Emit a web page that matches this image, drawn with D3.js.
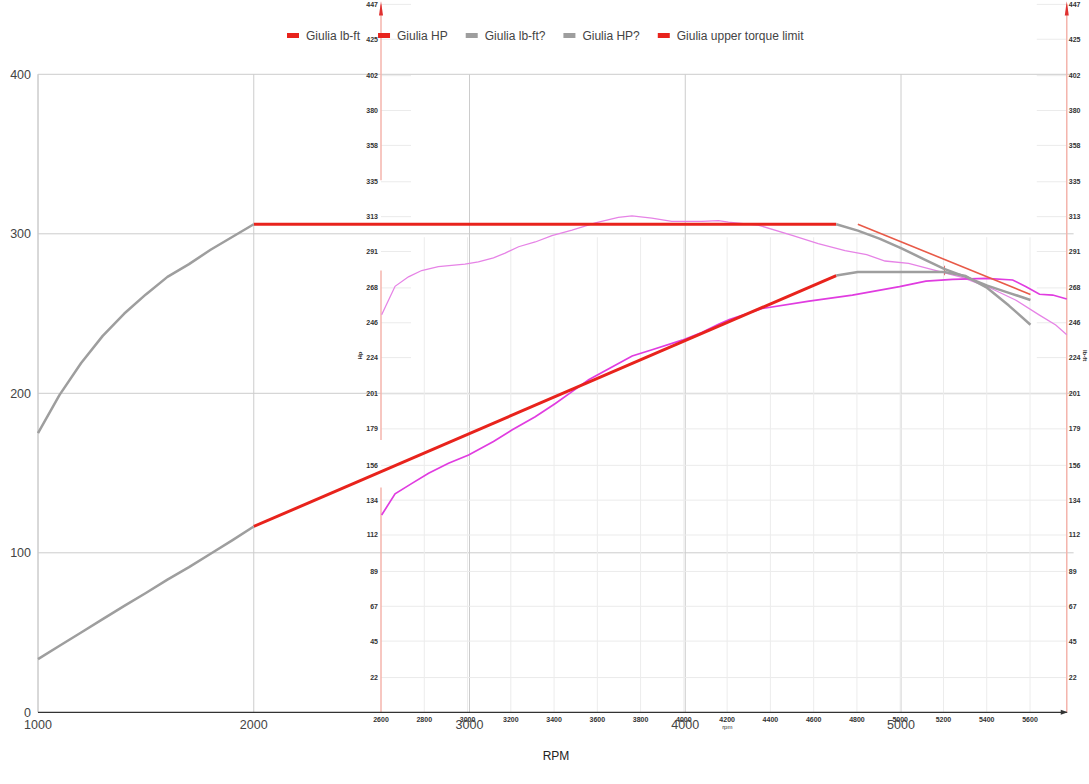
<!DOCTYPE html>
<html>
<head>
<meta charset="utf-8">
<script src="https://cdn.jsdelivr.net/npm/d3@7"></script>
<style>
  body { margin: 0; background: #fff; }
  #chart { width: 1089px; height: 784px; }
  text { font-family: Arial, "Liberation Sans", sans-serif; }
</style>
</head>
<body>
<div id="chart"></div>
<script>
// main chart values
const rpmTicks = [1000, 2000, 3000, 4000, 5000];
const valueTicks = [0, 100, 200, 300, 400];
const seriesNames = ["Giulia lb-ft", "Giulia HP", "Giulia lb-ft?", "Giulia HP?", "Giulia upper torque limit"];

const giuliaTorque = [[2000, 306], [4700, 306]];
const giuliaHp = [[2000, 116.5], [4700, 273.8]];
const guessTorque = [[1000, 175], [1100, 199], [1200, 219], [1300, 236], [1400, 250], [1500, 262],
  [1600, 273], [1700, 281], [1800, 290], [1900, 298], [2000, 306], [3000, null],
  [4700, 306], [4800, 302], [4900, 297], [5000, 291], [5100, 284.5], [5200, 278],
  [5300, 273], [5400, 267.5], [5500, 263], [5600, 258.5]];
const guessHp = [[1000, 33.3], [1100, 41.7], [1200, 50], [1300, 58.4], [1400, 66.7], [1500, 74.8],
  [1600, 83.2], [1700, 91], [1800, 99.4], [1900, 107.8], [2000, 116.5], [3000, null],
  [4700, 273.8], [4800, 276], [4900, 276], [5000, 276], [5100, 276], [5200, 276],
  [5300, 273.5], [5400, 266], [5500, 255], [5600, 243]];
const upperLimit = [[4800, 306], [5600, 262]];

// dyno sheet pasted over the chart
const dynoRpmTicks = [2600, 2800, 3000, 3200, 3400, 3600, 3800, 4000, 4200, 4400, 4600, 4800, 5000, 5200, 5400, 5600];
const dynoValueTicks = [22, 45, 67, 89, 112, 134, 156, 179, 201, 224, 246, 268, 291, 313, 335, 358, 380, 402, 425, 447];
const dynoTorque = [[2603, 251], [2665, 269], [2727, 275], [2788, 279], [2865, 281.5], [2988, 283],
  [3050, 284.5], [3120, 287], [3174, 290], [3236, 294], [3313, 297], [3390, 301], [3483, 304.5],
  [3591, 309], [3697, 312.5], [3760, 313.5], [3852, 312], [3944, 310], [4083, 310], [4160, 310.5],
  [4206, 309.5], [4343, 307.7], [4497, 301.4], [4621, 296], [4745, 291.5], [4845, 289], [4930, 285],
  [5039, 283.5], [5162, 279], [5286, 274.7], [5409, 268.4], [5533, 260.4], [5642, 251], [5719, 244.6],
  [5770, 238.5]];
const dynoHp = [[2603, 124.6], [2665, 138], [2743, 144.6], [2820, 151], [2912, 157.3], [3005, 162.5],
  [3120, 171], [3205, 178.3], [3313, 186.7], [3406, 195], [3483, 202.5], [3560, 210], [3653, 217],
  [3761, 225], [3853, 229], [3992, 235], [4085, 240], [4160, 245], [4210, 248], [4363, 255],
  [4579, 259.7], [4779, 263.5], [4997, 268.8], [5119, 272.3], [5242, 273.4], [5397, 274], [5520, 273],
  [5582, 268.8], [5644, 264], [5705, 263.5], [5770, 261]];
const dynoLeftAxisParts = [[0, 142], [172, 279], [336, 447]];
const dynoMarker = [[5205, 276], [5205, 282]];

const width = 1089;
const height = 784;

const svg = d3.select("#chart")
  .append("svg")
  .attr("width", width)
  .attr("height", height);

const xScale = d3.scaleLinear().domain([1000, 5800]).range([38, 1073.6]);
const yScale = d3.scaleLinear().domain([0, 400]).range([712.3, 74.3]);

const dx = d3.scaleLinear().domain([2600, 5600]).range([381, 1030]);
const dy = d3.scaleLinear().domain([0, 447]).range([712.4, 4.4]);
const dynoEnd = 5770;

/* main grid */
const grid = svg.append("g");
grid.selectAll(".hgrid")
  .data(valueTicks.filter(d => d > 0))
  .enter().append("line")
    .attr("x1", xScale(1000)).attr("x2", xScale(5800))
    .attr("y1", d => yScale(d)).attr("y2", d => yScale(d))
    .attr("stroke", "#cccccc");
grid.selectAll(".vgrid")
  .data(rpmTicks)
  .enter().append("line")
    .attr("x1", d => xScale(d)).attr("x2", d => xScale(d))
    .attr("y1", yScale(0)).attr("y2", yScale(400))
    .attr("stroke", "#cccccc");

/* dyno sheet grid + axes */
const dyno = svg.append("g");
dyno.selectAll(".dh")
  .data(dynoValueTicks)
  .enter().append("line")
    .attr("x1", dx(2600))
    .attr("x2", d => d <= 201 ? dx(dynoEnd) : dx(2600) + 30)
    .attr("y1", d => dy(d)).attr("y2", d => dy(d))
    .attr("stroke", "#ebebeb");
dyno.selectAll(".dh2")
  .data(dynoValueTicks.filter(d => d > 201))
  .enter().append("line")
    .attr("x1", dx(dynoEnd) - 30).attr("x2", dx(dynoEnd))
    .attr("y1", d => dy(d)).attr("y2", d => dy(d))
    .attr("stroke", "#ebebeb");
dyno.selectAll(".dv")
  .data(dynoRpmTicks.slice(1))
  .enter().append("line")
    .attr("x1", d => dx(d)).attr("x2", d => dx(d))
    .attr("y1", dy(0)).attr("y2", dy(300))
    .attr("stroke", "#ececec");

dyno.selectAll(".laxis")
  .data(dynoLeftAxisParts)
  .enter().append("line")
    .attr("x1", dx(2600)).attr("x2", dx(2600))
    .attr("y1", d => dy(d[0])).attr("y2", d => dy(d[1]))
    .attr("stroke", "#f4b4ac").attr("stroke-width", 1.5);
dyno.append("line")
  .attr("x1", dx(dynoEnd)).attr("x2", dx(dynoEnd))
  .attr("y1", dy(0)).attr("y2", dy(447))
  .attr("stroke", "#f4b4ac").attr("stroke-width", 1.5);

// small arrow heads of the dyno axes
[dx(2600), dx(dynoEnd)].forEach(function(ax) {
  dyno.append("path")
    .attr("d", `M${ax - 2},${dy(440)} L${ax},${dy(449)} L${ax + 2},${dy(440)} Z`)
    .attr("fill", "#e03030");
});

const dynoFont = "bold 7px Arial, 'Liberation Sans', sans-serif";

dyno.selectAll(".lt")
  .data(dynoValueTicks)
  .enter().append("text")
    .attr("x", dx(2600) - 3)
    .attr("y", d => dy(d))
    .attr("dy", "0.35em")
    .attr("text-anchor", "end")
    .style("font", dynoFont)
    .attr("fill", "#333")
    .text(d => d);
dyno.selectAll(".rt")
  .data(dynoValueTicks)
  .enter().append("text")
    .attr("x", dx(dynoEnd) + 2)
    .attr("y", d => dy(d))
    .attr("dy", "0.35em")
    .style("font", dynoFont)
    .attr("fill", "#333")
    .text(d => d);
dyno.selectAll(".bt")
  .data(dynoRpmTicks)
  .enter().append("text")
    .attr("x", d => dx(d))
    .attr("y", 722)
    .attr("text-anchor", "middle")
    .style("font", dynoFont)
    .attr("fill", "#333")
    .text(d => d);

dyno.append("text")
  .attr("x", dx(4200) - 5).attr("y", 729)
  .style("font", "6px Arial, 'Liberation Sans', sans-serif")
  .attr("fill", "#333")
  .text("rpm");
dyno.append("text")
  .attr("transform", `translate(${dx(2600) - 19},${dy(224) - 2}) rotate(-90)`)
  .attr("text-anchor", "middle")
  .style("font", "bold 6px Arial, 'Liberation Sans', sans-serif")
  .attr("fill", "#333")
  .text("Hp");
dyno.append("text")
  .attr("transform", `translate(${dx(dynoEnd) + 16},${dy(224) - 2}) rotate(90)`)
  .attr("text-anchor", "middle")
  .style("font", "bold 6px Arial, 'Liberation Sans', sans-serif")
  .attr("fill", "#333")
  .text("lb-ft");

const dynoLine = d3.line()
  .x(d => dx(d[0]))
  .y(d => dy(d[1]));

dyno.append("path")
  .datum(dynoTorque)
  .attr("d", dynoLine)
  .attr("fill", "none")
  .attr("stroke", "#e683e6")
  .attr("stroke-width", 1.3);
dyno.append("path")
  .datum(dynoHp)
  .attr("d", dynoLine)
  .attr("fill", "none")
  .attr("stroke", "#e03ce0")
  .attr("stroke-width", 1.7);
dyno.append("path")
  .datum(dynoMarker)
  .attr("d", dynoLine)
  .attr("fill", "none")
  .attr("stroke", "#e06a6a")
  .attr("stroke-width", 1);

/* baselines */
svg.append("line")
  .attr("x1", xScale(1000)).attr("x2", xScale(1000))
  .attr("y1", yScale(0)).attr("y2", yScale(400))
  .attr("stroke", "#cccccc");
svg.append("line")
  .attr("x1", xScale(1000)).attr("x2", dx(dynoEnd))
  .attr("y1", yScale(0)).attr("y2", yScale(0))
  .attr("stroke", "#333").attr("stroke-width", 1.3);
svg.append("path")
  .attr("d", `M${dx(dynoEnd) - 6},${yScale(0) - 2.5} L${dx(dynoEnd) + 1},${yScale(0)} L${dx(dynoEnd) - 6},${yScale(0) + 2.5} Z`)
  .attr("fill", "#333");

/* series */
const line = d3.line()
  .defined(d => d[1] != null)
  .x(d => xScale(d[0]))
  .y(d => yScale(d[1]));

const series = [
  {data: giuliaTorque, color: "#e8231c", w: 3},
  {data: giuliaHp, color: "#e8231c", w: 3},
  {data: guessTorque, color: "#9e9e9e", w: 2.5},
  {data: guessHp, color: "#9e9e9e", w: 2.5},
  {data: upperLimit, color: "#e85a48", w: 1.6}
];

series.forEach(function(s) {
  svg.append("path")
    .datum(s.data)
    .attr("d", line)
    .attr("fill", "none")
    .attr("stroke", s.color)
    .attr("stroke-width", s.w)
    .attr("stroke-linejoin", "round");
});

/* axis labels */
svg.selectAll(".ylab")
  .data(valueTicks)
  .enter().append("text")
    .attr("x", 31)
    .attr("y", d => yScale(d))
    .attr("dy", "0.35em")
    .attr("text-anchor", "end")
    .attr("font-size", 12.5)
    .attr("fill", "#444")
    .text(d => d);

svg.selectAll(".xlab")
  .data(rpmTicks)
  .enter().append("text")
    .attr("x", d => xScale(d))
    .attr("y", 729)
    .attr("text-anchor", "middle")
    .attr("font-size", 12.5)
    .attr("fill", "#444")
    .text(d => d);

svg.append("text")
  .attr("x", 556)
  .attr("y", 760)
  .attr("text-anchor", "middle")
  .attr("font-size", 12)
  .attr("fill", "#222")
  .text("RPM");

/* legend */
const legend = svg.append("g");
let lx = 287;
seriesNames.forEach(function(name, i) {
  legend.append("rect")
    .attr("x", lx).attr("y", 33)
    .attr("width", 12).attr("height", 5)
    .attr("fill", i === 4 ? "#e8231c" : series[i].color);
  const t = legend.append("text")
    .attr("x", lx + 19).attr("y", 39.5)
    .attr("font-size", 12)
    .attr("fill", "#444")
    .text(name);
  lx += 19 + t.node().getComputedTextLength() + 18;
});
</script>
</body>
</html>
